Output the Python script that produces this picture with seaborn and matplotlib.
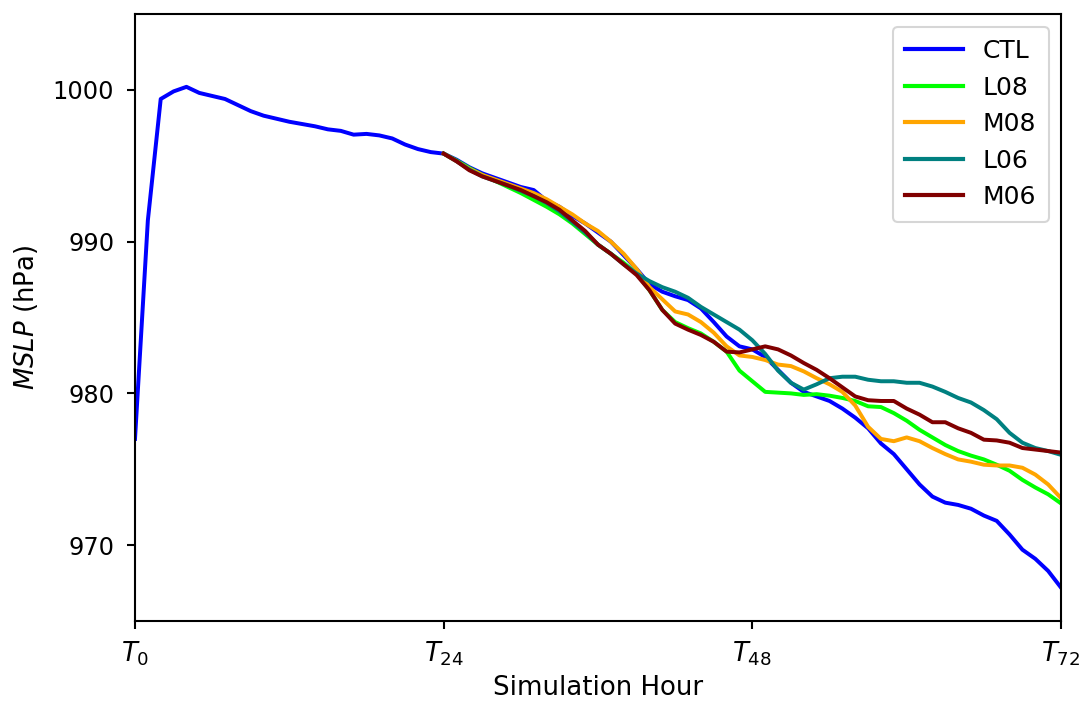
import numpy as np
import pandas as pd
import matplotlib
matplotlib.use("Agg")
import matplotlib.pyplot as plt
import seaborn as sns

# ---- data ----
hours_ctl = list(range(0, 73))
ctl = [977.0, 991.4, 999.4, 999.9, 1000.2, 999.8, 999.6, 999.4, 999.0, 998.6,
       998.3, 998.1, 997.9, 997.75, 997.6, 997.4, 997.3, 997.05, 997.1, 997.0,
       996.8, 996.4, 996.1, 995.9, 995.8, 995.4, 994.9, 994.5, 994.2, 993.9,
       993.6, 993.4, 992.7, 992.3, 991.7, 991.2, 990.6, 990.0, 989.1, 988.2,
       987.2, 986.7, 986.4, 986.15, 985.6, 984.7, 983.75, 983.1, 982.9, 982.4,
       981.55, 980.7, 980.1, 979.8, 979.5, 979.0, 978.4, 977.7, 976.7, 976.0,
       975.0, 974.0, 973.2, 972.8, 972.65, 972.4, 971.95, 971.6, 970.7, 969.7,
       969.1, 968.3, 967.2]

hours_exp = list(range(24, 73))
l08 = [995.8, 995.35, 994.85, 994.4, 994.0, 993.6, 993.2, 992.75, 992.3, 991.8,
       991.2, 990.5, 989.8, 989.2, 988.6, 987.9, 986.8, 985.5, 984.7, 984.3,
       983.95, 983.4, 982.75, 981.5, 980.8, 980.1, 980.05, 980.0, 979.9, 979.95,
       979.85, 979.7, 979.5, 979.15, 979.1, 978.7, 978.2, 977.6, 977.1, 976.6,
       976.2, 975.9, 975.65, 975.3, 974.9, 974.3, 973.8, 973.35, 972.75]
m08 = [995.8, 995.3, 994.8, 994.4, 994.1, 993.8, 993.5, 993.2, 992.8, 992.3,
       991.8, 991.2, 990.7, 990.0, 989.2, 988.2, 987.0, 986.2, 985.4, 985.2,
       984.7, 984.0, 983.1, 982.5, 982.4, 982.2, 981.9, 981.8, 981.45, 981.0,
       980.6, 980.1, 979.2, 977.8, 977.0, 976.85, 977.1, 976.85, 976.4, 976.0,
       975.65, 975.5, 975.3, 975.25, 975.25, 975.1, 974.65, 974.0, 973.1]
l06 = [995.8, 995.3, 994.75, 994.3, 994.0, 993.7, 993.35, 993.0, 992.55, 992.0,
       991.3, 990.6, 989.8, 989.2, 988.5, 987.9, 987.4, 987.0, 986.7, 986.3,
       985.7, 985.2, 984.7, 984.2, 983.5, 982.6, 981.5, 980.7, 980.25, 980.6,
       981.0, 981.1, 981.1, 980.9, 980.8, 980.8, 980.7, 980.7, 980.45, 980.1,
       979.7, 979.4, 978.9, 978.3, 977.4, 976.75, 976.4, 976.2, 975.95]
m06 = [995.8, 995.3, 994.7, 994.3, 994.0, 993.7, 993.4, 993.0, 992.6, 992.1,
       991.4, 990.7, 989.8, 989.2, 988.5, 987.8, 986.8, 985.5, 984.6, 984.2,
       983.85, 983.4, 982.75, 982.7, 982.9, 983.1, 982.9, 982.5, 982.0, 981.55,
       981.0, 980.4, 979.8, 979.55, 979.5, 979.5, 979.0, 978.6, 978.1, 978.1,
       977.7, 977.4, 976.95, 976.9, 976.75, 976.4, 976.3, 976.2, 976.1]

series_names = ["CTL", "L08", "M08", "L06", "M06"]
series_colors = ["blue", "lime", "orange", "teal", "maroon"]
xticks = [0, 24, 48, 72]
xticklabels = [r"$T_{0}$", r"$T_{24}$", r"$T_{48}$", r"$T_{72}$"]
yticks = [970, 980, 990, 1000]

frames = [pd.DataFrame({"hour": hours_ctl, "mslp": ctl, "run": "CTL"})]
for name, vals in zip(series_names[1:], [l08, m08, l06, m06]):
    frames.append(pd.DataFrame({"hour": hours_exp, "mslp": vals, "run": name}))
df = pd.concat(frames, ignore_index=True)

fig = plt.figure(figsize=(7.24, 4.687), dpi=150)
ax = fig.add_axes([0.1243, 0.1166, 0.8527, 0.8634])

sns.lineplot(data=df, x="hour", y="mslp", hue="run", hue_order=series_names,
             palette=dict(zip(series_names, series_colors)), linewidth=1.9,
             ax=ax, estimator=None, sort=False)

ax.set_xlim(0, 72)
ax.set_ylim(965, 1005)
ax.set_xticks(xticks)
ax.set_xticklabels(xticklabels, fontsize=12.5)
ax.set_yticks(yticks)
ax.tick_params(axis="y", labelsize=11.5, pad=6)
ax.tick_params(axis="x", pad=5)
ax.tick_params(length=4, width=1)
for s in ax.spines.values():
    s.set_linewidth(1.0)
ax.set_xlabel("Simulation Hour", fontsize=12.5, labelpad=3)
ax.set_ylabel(r"$MSLP$ (hPa)", fontsize=12.5, labelpad=6)
leg = ax.legend(loc="upper right", fontsize=12, handlelength=2.3,
                labelspacing=0.5, borderpad=0.5)
leg.set_title(None)
for h in leg.get_lines():
    h.set_linewidth(2.0)

fig.savefig("out.png", dpi=150)
